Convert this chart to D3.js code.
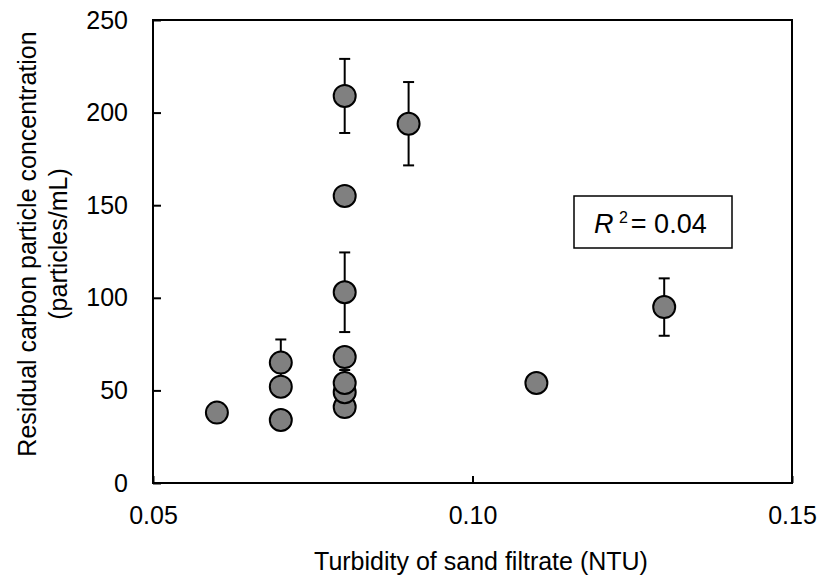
<!DOCTYPE html>
<html>
<head>
<meta charset="utf-8">
<script src="https://cdn.jsdelivr.net/npm/d3@7"></script>
<style>
  body { margin: 0; background: #fff; }
  text { font-family: Arial, "Liberation Sans", sans-serif; fill: #000; }
</style>
</head>
<body>
<svg id="chart"></svg>
<script>
// turbidity (NTU) vs residual carbon particles (particles/mL)
const turbidity = [0.06, 0.07, 0.07, 0.07, 0.08, 0.08, 0.08, 0.08, 0.08, 0.08, 0.08, 0.09, 0.11, 0.13];
const carbon    = [38,   34,   52,   65,   209,  155,  103,  68,   41,   49,   54,   194,  54,   95];
const carbonErr = [0,    0,    0,    12.5, 20,   0,    21.5, 0,    0,    0,    7,    22.5, 0,    15.5];

const xTicks = [0.05, 0.10, 0.15];
const yTicks = [0, 50, 100, 150, 200, 250];
const rSquared = "0.04";

const width = 819, height = 583;
const margin = {top: 20, right: 27, bottom: 100, left: 153};
const fontSize = 25;

const svg = d3.select("#chart")
    .attr("width", width)
    .attr("height", height);

const x = d3.scaleLinear().domain([0.05, 0.15]).range([margin.left, width - margin.right]);
const y = d3.scaleLinear().domain([0, 250]).range([height - margin.bottom, margin.top]);

// axes, ticks point inward
const xAxis = svg.append("g")
    .attr("transform", `translate(0,${height - margin.bottom})`)
    .call(d3.axisBottom(x).tickValues(xTicks).tickFormat(d3.format(".2f"))
        .tickSizeInner(-7).tickSizeOuter(0).tickPadding(23));

const yAxis = svg.append("g")
    .attr("transform", `translate(${margin.left},0)`)
    .call(d3.axisLeft(y).tickValues(yTicks).tickFormat(d3.format("d"))
        .tickSizeInner(-8).tickSizeOuter(0).tickPadding(25));

[xAxis, yAxis].forEach(g => {
    g.select(".domain").remove();
    g.selectAll(".tick line").attr("stroke", "#000").attr("stroke-width", 2);
    g.selectAll(".tick text").attr("font-size", fontSize).style("font-family", "Arial, 'Liberation Sans', sans-serif");
});

// plot frame
svg.append("rect")
    .attr("x", x(0.05))
    .attr("y", y(250))
    .attr("width", x(0.15) - x(0.05))
    .attr("height", y(0) - y(250))
    .attr("fill", "none")
    .attr("stroke", "#000")
    .attr("stroke-width", 2);

const pts = turbidity.map((t, i) => ({x: t, y: carbon[i], e: carbonErr[i]}));

// error bars under markers
const eb = svg.append("g")
    .selectAll("g")
    .data(pts.filter(d => d.e > 0))
    .enter().append("g")
    .attr("stroke", "#000")
    .attr("stroke-width", 2);

eb.append("line")
    .attr("x1", d => x(d.x)).attr("x2", d => x(d.x))
    .attr("y1", d => y(d.y - d.e)).attr("y2", d => y(d.y + d.e));
eb.append("line")
    .attr("x1", d => x(d.x) - 5.5).attr("x2", d => x(d.x) + 5.5)
    .attr("y1", d => y(d.y + d.e)).attr("y2", d => y(d.y + d.e));
eb.append("line")
    .attr("x1", d => x(d.x) - 5.5).attr("x2", d => x(d.x) + 5.5)
    .attr("y1", d => y(d.y - d.e)).attr("y2", d => y(d.y - d.e));

svg.append("g")
    .selectAll("circle")
    .data(pts)
    .enter().append("circle")
    .attr("cx", d => x(d.x))
    .attr("cy", d => y(d.y))
    .attr("r", 11)
    .attr("fill", "#808080")
    .attr("stroke", "#000")
    .attr("stroke-width", 2);

// R^2 box
svg.append("rect")
    .attr("x", 574).attr("y", 196)
    .attr("width", 158).attr("height", 52)
    .attr("fill", "#fff")
    .attr("stroke", "#000")
    .attr("stroke-width", 1.5);

const rt = svg.append("text")
    .attr("x", 594).attr("y", 233)
    .attr("font-size", 27);
rt.append("tspan").attr("font-style", "italic").text("R");
rt.append("tspan").attr("font-size", 16).attr("dx", 1).attr("dy", -10).text(" 2");
rt.append("tspan").attr("dx", 3).attr("dy", 10).text("= " + rSquared);

// axis titles
svg.append("text")
    .attr("x", 481).attr("y", 570)
    .attr("text-anchor", "middle")
    .attr("font-size", fontSize)
    .text("Turbidity of sand filtrate (NTU)");

const yt = svg.append("text")
    .attr("transform", `translate(0,244) rotate(-90)`)
    .attr("text-anchor", "middle")
    .attr("font-size", fontSize);
yt.append("tspan").attr("x", 0).attr("y", 36).text("Residual carbon particle concentration");
yt.append("tspan").attr("x", 0).attr("y", 67).text("(particles/mL)");
</script>
</body>
</html>
